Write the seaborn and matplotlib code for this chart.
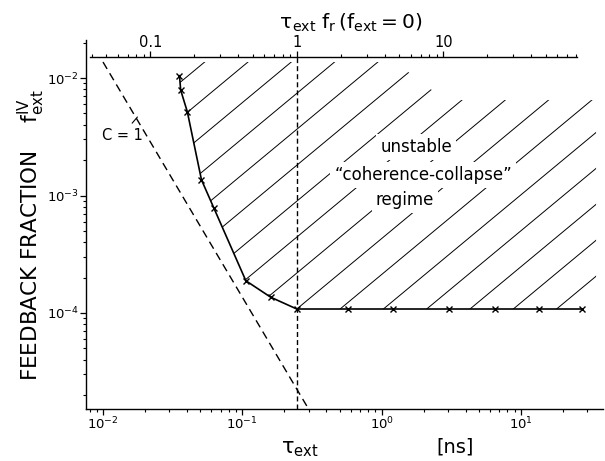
import matplotlib
matplotlib.use("Agg")
import matplotlib.pyplot as plt
import seaborn as sns
from matplotlib.lines import Line2D
from matplotlib.patches import Polygon
from matplotlib.transforms import IdentityTransform
from matplotlib.ticker import LogLocator, FixedLocator, FuncFormatter, NullFormatter

# --- data (tau_ext in ns, feedback fraction f_ext) ---------------------------
# C = 1 boundary (dashed straight line in the log-log plane)
tau_c1 = [0.0100, 0.296]
f_c1 = [1.37e-2, 1.55e-5]

# measured onset of coherence collapse (crosses)
tau_onset = [0.0354, 0.0361, 0.0403, 0.0509, 0.0626, 0.106, 0.160, 0.246,
             0.574, 1.21, 3.05, 6.52, 13.5, 27.5]
f_onset = [1.05e-2, 7.9e-3, 5.16e-3, 1.36e-3, 7.78e-4, 1.88e-4, 1.36e-4, 1.08e-4,
           1.08e-4, 1.08e-4, 1.08e-4, 1.08e-4, 1.08e-4, 1.08e-4]

# tau_ext * f_r = 1 for the solitary laser
tau_res = 0.246

# outline of the hatched "unstable" regime
hatch_tau = [0.0354, 0.0354, 0.0361, 0.0403, 0.0509, 0.0626, 0.106, 0.160, 0.246,
             34.6, 34.6, 2.85, 1.25]
hatch_f = [1.37e-2, 1.05e-2, 7.9e-3, 5.16e-3, 1.36e-3, 7.78e-4, 1.88e-4, 1.36e-4,
           1.08e-4, 1.08e-4, 6.5e-3, 6.5e-3, 1.37e-2]

xlim = (7.55e-3, 38.8)
ylim = (1.52e-5, 2.11e-2)
top_exp = 0.951            # decade stretch of the upper scale
top_span_tau = (0.00807, 25.3)
top_major = [0.1, 1, 10]

region_lines = ["unstable", "\u201ccoherence-collapse\u201d", "regime"]

# --- style -------------------------------------------------------------------
sns.set_theme(style="ticks")
plt.rcParams["font.family"] = ["DejaVu Sans"]
plt.rcParams["mathtext.default"] = "regular"
plt.rcParams["axes.edgecolor"] = "black"
plt.rcParams["xtick.color"] = "black"
plt.rcParams["ytick.color"] = "black"
plt.rcParams["text.color"] = "black"
plt.rcParams["axes.labelcolor"] = "black"

W, H = 605, 461
fig = plt.figure(figsize=(W / 100, H / 100), dpi=100)
L, R, B, T = 86, 603, 409, 40
ax = fig.add_axes([L / W, (H - B) / H, (R - L) / W, (B - T) / H])
ax.set_xscale("log")
ax.set_yscale("log")

def ax_frac(px, py):
    return (px - L) / (R - L), (B - py) / (B - T)

# C = 1 line
sns.lineplot(x=tau_c1, y=f_c1, ax=ax, color="black", lw=1.0,
             linestyle=(0, (5.8, 3.6)), sort=False, estimator=None)

# onset curve with crosses
sns.lineplot(x=tau_onset, y=f_onset, ax=ax, color="black", lw=1.2,
             marker="x", markersize=4, markeredgewidth=1.0,
             markeredgecolor="black", sort=False, estimator=None, zorder=4)

ax.set_xlim(*xlim)
ax.set_ylim(*ylim)

# vertical marker at tau_ext f_r = 1, up to the upper scale
top_loc = ax_frac(0, 57)[1]
ax.axvline(tau_res, ymin=0, ymax=top_loc, color="black", lw=1.0,
           linestyle=(0, (3.6, 2.2)), zorder=4)

# hatching of the unstable regime, clipped to its outline
region = Polygon(list(zip(hatch_tau, hatch_f)), closed=True,
                 transform=ax.transData, fill=False, edgecolor="none")
ax.add_patch(region)
x0, y0 = ax.transData.transform((tau_res, f_onset[7]))
step = 0.433 * fig.dpi
slope = 0.83
for k in range(-25, 15):
    xs = x0 + k * step
    ln = Line2D([xs - 700, xs + 700], [y0 - 700 * slope, y0 + 700 * slope],
                transform=IdentityTransform(), color="black", lw=0.7, zorder=1.5)
    ln.set_clip_path(region)
    ax.add_artist(ln)

# axes cosmetics
sns.despine(ax=ax)
ax.spines["left"].set_linewidth(1.0)
ax.spines["bottom"].set_linewidth(1.0)
ax.tick_params(which="major", direction="out", length=4, width=0.9,
               labelsize=9.5, pad=1)
ax.tick_params(which="minor", direction="out", length=2.5, width=0.8)
ax.xaxis.set_minor_locator(LogLocator(base=10, subs=range(2, 10), numticks=20))
ax.yaxis.set_minor_locator(LogLocator(base=10, subs=range(2, 10), numticks=20))
ax.xaxis.set_minor_formatter(NullFormatter())
ax.yaxis.set_minor_formatter(NullFormatter())

# upper scale: tau_ext * f_r(f_ext = 0)
fwd = lambda t: (t / tau_res) ** top_exp
inv = lambda v: tau_res * v ** (1.0 / top_exp)
lo, hi = fwd(top_span_tau[0]), fwd(top_span_tau[1])
sec = ax.secondary_xaxis(top_loc, functions=(fwd, inv))
sec.spines["top"].set_linewidth(1.0)
sec.spines["top"].set_color("black")
sec.spines["top"].set_bounds(lo, hi)
minor_top = [m * 10.0 ** e for e in range(-2, 3) for m in range(2, 10)
             if lo <= m * 10.0 ** e <= hi]
sec.xaxis.set_major_locator(FixedLocator(top_major))
sec.xaxis.set_minor_locator(FixedLocator(minor_top))
sec.xaxis.set_major_formatter(FuncFormatter(lambda v, p: f"{v:g}"))
sec.xaxis.set_minor_formatter(NullFormatter())
sec.tick_params(which="major", direction="out", length=4, width=0.9,
                labelsize=10.5, pad=1)
sec.tick_params(which="minor", direction="out", length=2.5, width=0.8)
sec.set_xlabel(r"  $\tau_{ext}\ f_{r}\,(f_{ext}=0)$", fontsize=14.5, labelpad=4.5)

# axis titles
ax.set_xlabel(r"$\tau_{ext}$", fontsize=15)
ax.xaxis.set_label_coords(*ax_frac(300, 439))
ax.text(*ax_frac(455, 447), "[ns]", transform=ax.transAxes, fontsize=14,
        ha="center", va="center")
ax.set_ylabel("FEEDBACK FRACTION    $f^{IV}_{ext}$", fontsize=15.5)
ax.yaxis.set_label_coords(*ax_frac(47, 235))

# annotations
ax.annotate("C = 1", xy=(0.01766, 4.66e-3), xycoords="data",
            xytext=ax_frac(122, 135), textcoords="axes fraction",
            fontsize=10.5, ha="center", va="center",
            arrowprops=dict(arrowstyle="-", lw=0.8, color="black",
                            shrinkA=1, shrinkB=7))
for txt, (px, py) in zip(region_lines, [(416, 147), (423, 175), (405, 200)]):
    ax.text(*ax_frac(px, py), txt, transform=ax.transAxes, fontsize=12,
            ha="center", va="center", zorder=3,
            bbox=dict(facecolor="white", edgecolor="none", pad=3))

fig.savefig("out.png", dpi=100, facecolor="white")
